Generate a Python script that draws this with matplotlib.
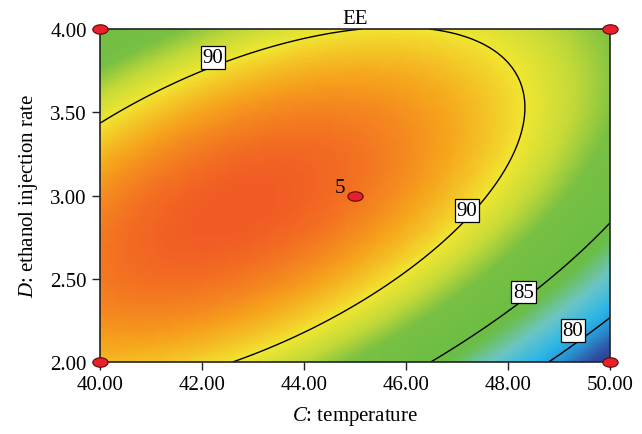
import numpy as np
import matplotlib
matplotlib.use("Agg")
import matplotlib.pyplot as plt
from matplotlib.colors import LinearSegmentedColormap
from matplotlib.path import Path

# quadratic model in coded units: x = (C - 45)/5, y = D - 3
# order: b0, x, y, xy, x^2, y^2
coef = [92.489, -2.977, 1.279, 4.101, -3.525, -3.795]
c_range = [40.0, 50.0]
d_range = [2.0, 4.0]
levels = [80, 85, 90]
# contour label boxes (text, C, D)
label_txt = ["90", "90", "85", "80"]
label_c = [42.22, 47.2, 48.3, 49.27]
label_d = [3.83, 2.91, 2.42, 2.19]
design_c = [40, 40, 50, 50, 45]
design_d = [2, 4, 2, 4, 3]
c_ticks = [40, 42, 44, 46, 48, 50]
d_ticks = [2.0, 2.5, 3.0, 3.5, 4.0]

plt.rcParams["font.family"] = ["Liberation Serif", "DejaVu Serif"]
plt.rcParams["mathtext.fontset"] = "custom"
plt.rcParams["mathtext.rm"] = "Liberation Serif"
plt.rcParams["mathtext.it"] = "Liberation Serif:italic"

cmap = LinearSegmentedColormap.from_list("de", [
    (0.00, "#2b3a8f"), (0.08, "#2e55a5"), (0.16, "#2a8fd0"), (0.24, "#29b6e8"),
    (0.36, "#6dc6c6"), (0.47, "#6abd45"), (0.66, "#78c043"), (0.74, "#c4da38"),
    (0.81, "#f1e631"), (0.90, "#f6a41c"), (1.00, "#f15a24"),
])

C, D = np.meshgrid(np.linspace(*c_range, 90), np.linspace(*d_range, 70))
X = (C - 45) / 5
Y = D - 3
Z = coef[0] + coef[1]*X + coef[2]*Y + coef[3]*X*Y + coef[4]*X**2 + coef[5]*Y**2

fig = plt.figure(figsize=(6.42, 4.35), dpi=100)
ax = fig.add_axes([100/642, 1 - 363/435, 510/642, 333/435])
ax.pcolormesh(C, D, Z, cmap=cmap, shading="gouraud", vmin=Z.min(), vmax=Z.max())
ax.contour(C, D, Z, levels=levels, colors="black", linewidths=1.0)
for txt, cx, dy in zip(label_txt, label_c, label_d):
    ax.text(cx, dy, txt, fontsize=15, ha="center", va="center", zorder=4,
            bbox=dict(facecolor="white", edgecolor="black", linewidth=0.9, pad=1.3))

# design points drawn as flat ellipses
th = np.linspace(0, 2 * np.pi, 40)
ell = Path(np.column_stack([np.cos(th), 0.62 * np.sin(th)]))
ax.plot(design_c, design_d, ls="none", marker=ell, ms=11, mfc="#e8202a",
        mec="#5a0a0a", mew=0.8, clip_on=False, zorder=5)
ax.text(44.8, 2.99, "5", fontsize=15, ha="right", va="bottom")

ax.set_xlim(*c_range)
ax.set_ylim(*d_range)
ax.set_xticks(c_ticks)
ax.set_yticks(d_ticks)
ax.set_xticklabels([f"{v:.2f}" for v in c_ticks])
ax.set_yticklabels([f"{v:.2f}" for v in d_ticks])
ax.tick_params(labelsize=15, direction="out", length=6, width=1, color="#222222")
for s in ax.spines.values():
    s.set_color("#222222")
    s.set_linewidth(1.2)

ax.set_xlabel("$\\it{C}$: temperature", fontsize=15, labelpad=7)
ax.set_ylabel("$\\it{D}$: ethanol injection rate", fontsize=15, labelpad=7)
ax.set_title("EE", fontsize=15, pad=4)

fig.savefig("out.png", dpi=100)
